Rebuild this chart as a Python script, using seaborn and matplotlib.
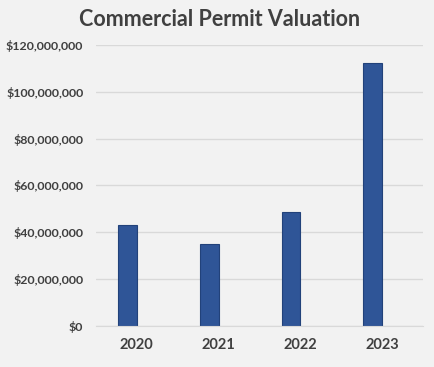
import pandas as pd
import matplotlib.pyplot as plt
import seaborn as sns
from matplotlib.ticker import FuncFormatter

# values
years = ['2020', '2021', '2022', '2023']
valuation = [42.9e6, 34.9e6, 48.6e6, 112.4e6]

df = pd.DataFrame({'year': years, 'valuation': valuation, 'series': 'Valuation'})

sns.set_style('white')
plt.rcParams['font.family'] = ['Lato', 'DejaVu Sans']

bg = '#f2f2f2'
txt = '#404040'

fig = plt.figure(figsize=(4.34, 3.67), dpi=100, facecolor=bg)
ax = fig.add_axes([0.221, 0.113, 0.754, 0.764], facecolor=bg)

# excel style clustered column: second (empty) series leaves the gap on the right
sns.barplot(data=df, x='year', y='valuation', hue='series',
            hue_order=['Valuation', 'Empty'], palette=['#2f5597', '#ed7d31'],
            width=0.46, dodge=True, saturation=1, edgecolor='#22427a',
            linewidth=0.8, legend=False, ax=ax)

ax.set_ylim(0, 120e6)
ax.set_yticks(range(0, 120000001, 20000000))
ax.yaxis.set_major_formatter(FuncFormatter(lambda v, p: '${:,.0f}'.format(v)))
ax.grid(axis='y', color='#d9d9d9', linewidth=1)
ax.set_axisbelow(True)
for s in ['top', 'right', 'left']:
    ax.spines[s].set_visible(False)
ax.spines['bottom'].set_color('#d9d9d9')
ax.tick_params(axis='y', length=0, pad=9, labelsize=8.9, labelcolor=txt)
ax.tick_params(axis='x', length=0, pad=9, labelsize=10.5, labelcolor=txt)
for lab in ax.get_xticklabels() + ax.get_yticklabels():
    lab.set_fontweight('bold')
ax.set_xlabel('')
ax.set_ylabel('')

fig.suptitle('Commercial Permit Valuation', x=0.505, y=0.975, fontsize=15.5,
             fontweight='bold', color=txt)

fig.savefig('out.png', dpi=100, facecolor=bg)
